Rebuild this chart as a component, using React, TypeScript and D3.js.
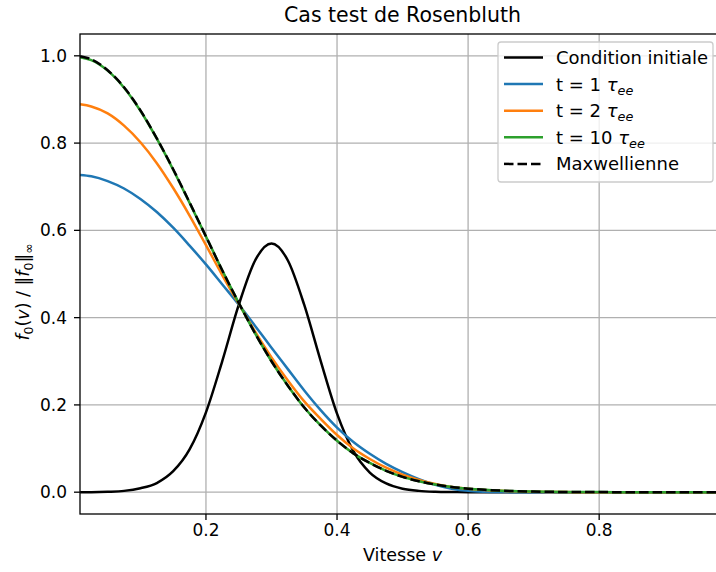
import React from 'react';
import * as d3 from 'd3';

// velocity grid (cell centres) and the curves
const velocity = [
  0.008, 0.025, 0.05, 0.075, 0.1, 0.125, 0.15, 0.175, 0.2, 0.225,
  0.25, 0.275, 0.3, 0.325, 0.35, 0.375, 0.4, 0.425, 0.45, 0.475,
  0.5, 0.525, 0.55, 0.575, 0.6, 0.625, 0.65, 0.675, 0.7, 0.725,
  0.75, 0.775, 0.8, 0.825, 0.85, 0.875, 0.9, 0.925, 0.95, 0.975, 0.992,
];

const initialCondition = [
  0, 0.0001, 0.001, 0.003, 0.009, 0.021, 0.048, 0.098, 0.183, 0.301,
  0.429, 0.531, 0.57, 0.531, 0.429, 0.301, 0.18, 0.094, 0.045, 0.02,
  0.008, 0.003, 0.001, 0.0003, 0, 0, 0, 0, 0, 0,
  0, 0, 0, 0, 0, 0, 0, 0, 0, 0, 0,
];

const tau1 = [
  0.727, 0.724, 0.713, 0.696, 0.672, 0.642, 0.606, 0.565, 0.522, 0.476,
  0.43, 0.381, 0.331, 0.282, 0.233, 0.188, 0.148, 0.115, 0.088, 0.065,
  0.046, 0.03, 0.017, 0.008, 0.003, 0.001, 0.0003, 0, 0, 0,
  0, 0, 0, 0, 0, 0, 0, 0, 0, 0, 0,
];

const tau2 = [
  0.889, 0.884, 0.868, 0.84, 0.802, 0.754, 0.697, 0.634, 0.566, 0.497,
  0.432, 0.368, 0.309, 0.256, 0.208, 0.168, 0.131, 0.1, 0.076, 0.056,
  0.04, 0.028, 0.019, 0.012, 0.008, 0.005, 0.003, 0.002, 0.001, 0.0005,
  0.0002, 0, 0, 0, 0, 0, 0, 0, 0, 0, 0,
];

const tau10 = [
  0.997, 0.99, 0.966, 0.927, 0.874, 0.81, 0.739, 0.663, 0.586, 0.508,
  0.434, 0.364, 0.3, 0.244, 0.194, 0.153, 0.118, 0.089, 0.067, 0.049,
  0.035, 0.025, 0.0175, 0.012, 0.008, 0.0054, 0.0035, 0.0023, 0.0014, 0.0009,
  0.0005, 0.0003, 0.0002, 0.0001, 0.0001, 0, 0, 0, 0, 0, 0,
];

const maxwellian = [
  0.999, 0.992, 0.967, 0.928, 0.875, 0.811, 0.74, 0.664, 0.586, 0.508,
  0.434, 0.364, 0.3, 0.244, 0.194, 0.153, 0.118, 0.089, 0.067, 0.049,
  0.035, 0.025, 0.0175, 0.012, 0.0081, 0.0054, 0.0035, 0.0023, 0.0014, 0.0009,
  0.0005, 0.0003, 0.0002, 0.0001, 0.0001, 0, 0, 0, 0, 0, 0,
];

const xTicks = [0.2, 0.4, 0.6, 0.8];
const yTicks = [0.0, 0.2, 0.4, 0.6, 0.8, 1.0];

const W = 716;
const H = 572;
const left = 80;
const right = 725;
const top = 34;
const bottom = 514;
const font = 'DejaVu Sans';

const x = d3.scaleLinear().domain([0.0078, 0.992]).range([left, right]);
const y = d3.scaleLinear().domain([-0.05, 1.05]).range([bottom, top]);

const line = d3
  .line<number>()
  .x((_, i) => x(velocity[i]))
  .y((d) => y(d))
  .curve(d3.curveMonotoneX);

type Series = { key: string; values: number[]; color: string; dash?: string; label: React.ReactNode };

const sub = (t: string) => (
  <tspan fontStyle="italic" fontSize={12.8} dy={4}>{t}</tspan>
);

const series: Series[] = [
  { key: 'init', values: initialCondition, color: '#000000', label: 'Condition initiale' },
  { key: 't1', values: tau1, color: '#1f77b4', label: <>t = 1 <tspan fontStyle="italic">τ</tspan>{sub('ee')}</> },
  { key: 't2', values: tau2, color: '#ff7f0e', label: <>t = 2 <tspan fontStyle="italic">τ</tspan>{sub('ee')}</> },
  { key: 't10', values: tau10, color: '#2ca02c', label: <>t = 10 <tspan fontStyle="italic">τ</tspan>{sub('ee')}</> },
  { key: 'maxw', values: maxwellian, color: '#000000', dash: '9.5 4', label: 'Maxwellienne' },
];

const App: React.FC = () => {
  const fmt = d3.format('.1f');
  return (
    <svg
      width={W}
      height={H}
      style={{ position: 'absolute', left: 0, top: 0, background: '#fff' }}
      fontFamily={font}
    >
      <defs>
        <clipPath id="plot">
          <rect x={left} y={top} width={right - left} height={bottom - top} />
        </clipPath>
      </defs>

      {/* grid */}
      <g stroke="#b0b0b0" strokeWidth={1.3}>
        {xTicks.map((t) => (
          <line key={'gx' + t} x1={x(t)} x2={x(t)} y1={top} y2={bottom} />
        ))}
        {yTicks.map((t) => (
          <line key={'gy' + t} x1={left} x2={right} y1={y(t)} y2={y(t)} />
        ))}
      </g>

      {/* curves */}
      <g clipPath="url(#plot)" fill="none" strokeWidth={2.5} strokeLinejoin="round">
        {series.map((s) => (
          <path key={s.key} d={line(s.values) ?? ''} stroke={s.color} strokeDasharray={s.dash} />
        ))}
      </g>

      {/* spines */}
      <rect x={left} y={top} width={right - left} height={bottom - top} fill="none" stroke="#000" strokeWidth={1.3} />

      {/* x axis */}
      <g fontSize={17} textAnchor="middle">
        {xTicks.map((t) => (
          <g key={'tx' + t}>
            <line x1={x(t)} x2={x(t)} y1={bottom} y2={bottom + 6} stroke="#000" strokeWidth={1.3} />
            <text x={x(t)} y={bottom + 22}>{fmt(t)}</text>
          </g>
        ))}
      </g>
      <text x={(left + right) / 2} y={561} fontSize={17.5} textAnchor="middle">
        Vitesse <tspan fontStyle="italic">v</tspan>
      </text>

      {/* y axis */}
      <g fontSize={17} textAnchor="end">
        {yTicks.map((t) => (
          <g key={'ty' + t}>
            <line x1={left - 6} x2={left} y1={y(t)} y2={y(t)} stroke="#000" strokeWidth={1.3} />
            <text x={left - 13} y={y(t) + 6}>{fmt(t)}</text>
          </g>
        ))}
      </g>
      <text transform="translate(29,292) rotate(-90)" fontSize={17.5} textAnchor="middle">
        <tspan fontStyle="italic">f</tspan>
        <tspan fontSize={12.5} dy={4}>0</tspan>
        <tspan dy={-4}>(</tspan>
        <tspan fontStyle="italic">v</tspan>
        <tspan>) / ‖</tspan>
        <tspan fontStyle="italic">f</tspan>
        <tspan fontSize={12.5} dy={4}>0</tspan>
        <tspan dy={-4}>‖</tspan>
        <tspan fontSize={12.5} dy={4}>∞</tspan>
      </text>

      {/* title */}
      <text x={(left + right) / 2} y={22} fontSize={20.5} textAnchor="middle">
        Cas test de Rosenbluth
      </text>

      {/* legend */}
      <g>
        <rect x={498} y={42} width={215} height={140} rx={3} fill="#fff" fillOpacity={0.8} stroke="#cccccc" strokeWidth={1.3} />
        {series.map((s, i) => {
          const cy = 57.5 + i * 26.6;
          return (
            <g key={'lg' + s.key}>
              <line x1={504} x2={543} y1={cy} y2={cy} stroke={s.color} strokeWidth={2.5} strokeDasharray={s.dash} />
              <text x={556} y={cy + 6.4} fontSize={18}>{s.label}</text>
            </g>
          );
        })}
      </g>
    </svg>
  );
};

export default App;
